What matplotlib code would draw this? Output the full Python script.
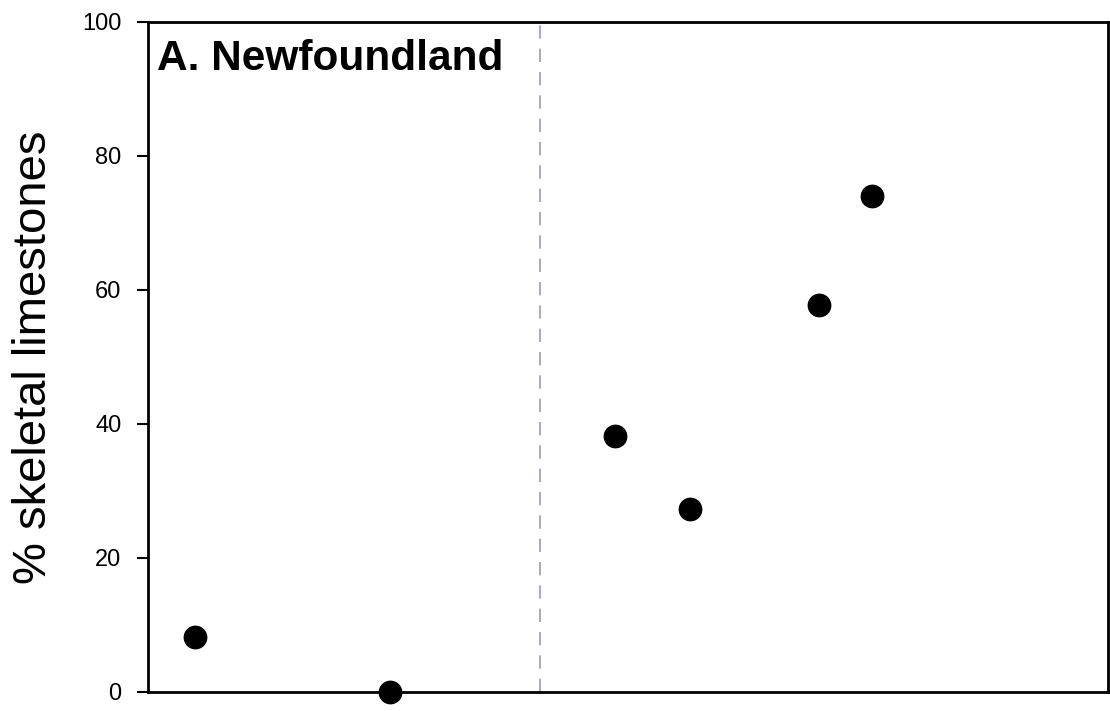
import matplotlib
matplotlib.use("Agg")
import matplotlib.pyplot as plt

plt.rcParams["font.family"] = ["Liberation Sans", "DejaVu Sans"]

# data (x in arbitrary axis units 0-100)
x_vals = [4.9, 25.2, 48.6, 56.5, 69.9, 75.4]
pct_skeletal = [8.2, 0.0, 38.2, 27.3, 57.8, 74.0]
divider_x = 40.8
y_ticks = [0, 20, 40, 60, 80, 100]

fig = plt.figure(figsize=(11.1, 7.11), dpi=100)
ax = fig.add_axes([148 / 1110, 1 - 692 / 711, 960 / 1110, 670 / 711])

ax.axvline(divider_x, ymin=0, ymax=0.995, color="#9a9ab8", linestyle=(0, (8, 6)), linewidth=1.2)
ax.scatter(x_vals, pct_skeletal, s=260, color="black", zorder=3, clip_on=False)

ax.set_xlim(0, 100)
ax.set_ylim(0, 100)
ax.set_xticks([])
ax.set_yticks(y_ticks)
ax.tick_params(axis="y", direction="out", length=8, width=1.5, labelsize=17, pad=11)

for s in ax.spines.values():
    s.set_linewidth(2)

ax.set_ylabel("% skeletal limestones", fontsize=34, labelpad=19)
ax.text(0.009, 0.975, "A. Newfoundland", transform=ax.transAxes,
        fontsize=30.5, fontweight="bold", ha="left", va="top")

fig.savefig("out.png", dpi=100)
